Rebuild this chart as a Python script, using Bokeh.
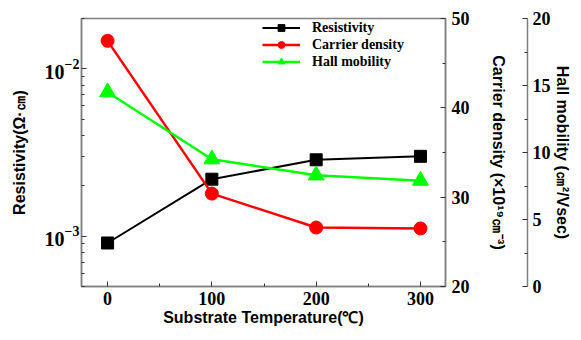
from bokeh.plotting import figure
from bokeh.models import (Range1d, LinearAxis, Legend, LegendItem, FixedTicker,
                          LinearScale, LogTickFormatter)
from bokeh.embed import file_html
from bokeh.resources import INLINE

temperature = [0, 100, 200, 300]
resistivity = [9.1e-4, 2.19e-3, 2.86e-3, 3.0e-3]
carrier_density = [47.5, 30.4, 26.6, 26.5]
hall_mobility = [14.5, 9.5, 8.3, 7.9]

x_ticks = [0, 100, 200, 300]
resistivity_ticks = [1e-3, 1e-2]
carrier_ticks = [20, 30, 40, 50]
hall_ticks = [0, 5, 10, 15, 20]

GRAY = "#7f7f7f"
TICK_FONT = "Liberation Serif"
TITLE_FONT = "Liberation Sans"

W, H = 573, 332
TOP, BOTTOM, LEFT, RIGHT = 18, 46, 81, 126
FRAME_H = H - TOP - BOTTOM

p = figure(width=W, height=H, y_axis_type="log",
           x_range=Range1d(-25, 324), y_range=Range1d(5e-4, 2e-2),
           output_backend="svg", toolbar_location=None,
           min_border_left=LEFT, min_border_right=RIGHT,
           min_border_top=TOP, min_border_bottom=BOTTOM)
p.extra_y_ranges = {"carrier": Range1d(20, 50), "hall": Range1d(0, 20)}
p.extra_y_scales = {"carrier": LinearScale(), "hall": LinearScale()}
p.xgrid.visible = False
p.ygrid.visible = False
p.outline_line_color = GRAY
p.outline_line_width = 1.5
p.background_fill_color = "white"
p.border_fill_color = "white"


def style_axis(ax):
    ax.axis_line_color = GRAY
    ax.axis_line_width = 1.5
    ax.major_tick_line_color = "#333333"
    ax.minor_tick_line_color = "#333333"
    ax.major_tick_in = 5
    ax.major_tick_out = 0
    ax.minor_tick_in = 3
    ax.minor_tick_out = 0
    ax.major_label_text_font = TICK_FONT
    ax.major_label_text_font_style = "bold"
    ax.major_label_text_font_size = "18px"
    ax.major_label_text_color = "black"
    ax.axis_label_text_font = TITLE_FONT
    ax.axis_label_text_font_style = "bold"
    ax.axis_label_text_font_size = "16px"
    ax.axis_label_text_color = "black"


xa = p.xaxis[0]
style_axis(xa)
xa.ticker = FixedTicker(ticks=x_ticks, minor_ticks=[50, 150, 250])
xa.axis_label = "Substrate Temperature(℃)"
xa.major_label_standoff = 5
xa.axis_label_standoff = 1

ya = p.yaxis[0]
style_axis(ya)
minor_log = [m * 10.0 ** e for e in (-4, -3, -2) for m in range(2, 10)]
ya.ticker = FixedTicker(ticks=resistivity_ticks, minor_ticks=minor_log)
ya.formatter = LogTickFormatter()
ya.major_label_text_font_size = "20px"
ya.axis_label = "Resistivity(Ω·㎝)"
ya.major_label_standoff = 2
ya.axis_label_standoff = 14

carrier_axis = LinearAxis(y_range_name="carrier",
                          ticker=FixedTicker(ticks=carrier_ticks,
                                             minor_ticks=[25, 35, 45]),
                          axis_label="Carrier density (×10¹⁹㎝⁻³)")
style_axis(carrier_axis)
carrier_axis.major_label_standoff = 6
carrier_axis.axis_label_standoff = 17
p.add_layout(carrier_axis, "right")

# invisible spacer panel that pushes the Hall-mobility axis outward
spacer = LinearAxis(y_range_name="carrier", ticker=FixedTicker(ticks=[35]),
                    axis_line_color=None, major_tick_in=0, major_tick_out=18,
                    major_tick_line_color="white",
                    minor_tick_in=0, minor_tick_out=0,
                    major_label_overrides={35: ""},
                    major_label_standoff=0,
                    major_label_text_font_size="1px")
p.add_layout(spacer, "right")

hall_axis = LinearAxis(y_range_name="hall",
                       ticker=FixedTicker(ticks=hall_ticks,
                                          minor_ticks=[2.5, 7.5, 12.5, 17.5]),
                       axis_label="Hall mobility (㎝²/Vsec)")
style_axis(hall_axis)
hall_axis.major_label_standoff = 5
hall_axis.axis_label_standoff = 0
p.add_layout(hall_axis, "right")

l1 = p.line(temperature, resistivity, line_color="black", line_width=2)
s1 = p.scatter(temperature, resistivity, marker="square", size=12,
               fill_color="black", line_color="black")
l2 = p.line(temperature, carrier_density, line_color="#ff0000", line_width=2.5,
            y_range_name="carrier")
s2 = p.scatter(temperature, carrier_density, marker="circle", size=13,
               fill_color="#ff0000", line_color="#ff0000", y_range_name="carrier")
l3 = p.line(temperature, hall_mobility, line_color="#00ff00", line_width=2.5,
            y_range_name="hall")
s3 = p.scatter(temperature, hall_mobility, marker="triangle", size=16,
               fill_color="#00ff00", line_color="#00ff00", y_range_name="hall")

ROW = 17
legend = Legend(items=[LegendItem(label="Resistivity", renderers=[l1, s1]),
                       LegendItem(label="Carrier density", renderers=[l2, s2]),
                       LegendItem(label="Hall mobility", renderers=[l3, s3])],
                location=(181, FRAME_H - 3 * ROW - 1), border_line_color=None,
                background_fill_alpha=0, padding=0, margin=0, spacing=0,
                glyph_width=38, glyph_height=ROW, label_height=ROW,
                label_standoff=12, label_text_font=TICK_FONT,
                label_text_font_style="bold", label_text_font_size="14px",
                label_text_color="black")
p.add_layout(legend)

open("out.html", "w").write(file_html(p, INLINE))
